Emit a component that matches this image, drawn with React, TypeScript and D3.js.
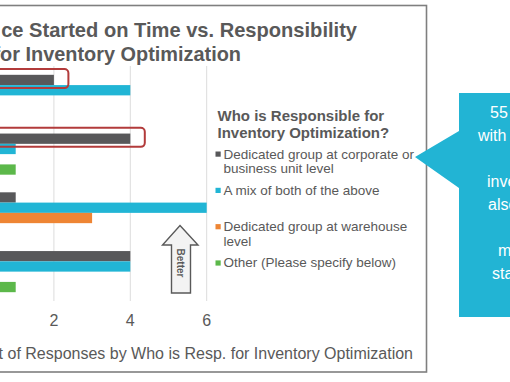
import React from "react";
import * as d3 from "d3";

// ---------- data ----------
const categories = ["Group 1", "Group 2", "Group 3", "Group 4"];
const seriesKeys = ["corporate", "mix", "warehouse", "other"];
const corporateValues = [2, 4, 1, 4];
const mixValues = [4, 1, 6, 4];
const warehouseValues = [0, 0, 3, 0];
const otherValues = [0, 1, 0, 1];
const gridTicks = [0, 2, 4, 6];
const tickLabels = [2, 4, 6];
const highlightedCategories = ["Group 1", "Group 2"];

const titleLines = ["ce Started on Time vs. Responsibility", "for Inventory Optimization"];
const axisTitle = "t of Responses by Who is Resp. for Inventory Optimization";
const legendTitle = ["Who is Responsible for", "Inventory Optimization?"];
const legendLabels = [
  ["Dedicated group at corporate or", "business unit level"],
  ["A mix of both of the above"],
  ["Dedicated group at warehouse", "level"],
  ["Other (Please specify below)"],
];
const calloutLines = ["55", "with", "", "inve", "also", "", "m", "sta"];
const arrowLabel = "Better";

// ---------- styles / layout ----------
const colors: Record<string, string> = {
  corporate: "#58585a",
  mix: "#21b5d5",
  warehouse: "#ee8534",
  other: "#5cb84a",
};
const textColor = "#595959";
const font = "'Liberation Sans', Arial, sans-serif";
const calloutLineX = [490, 478, 0, 487, 488, 0, 498, 492];

export default function App() {
  const W = 510;
  const H = 382;
  const values: Record<string, number[]> = {
    corporate: corporateValues,
    mix: mixValues,
    warehouse: warehouseValues,
    other: otherValues,
  };

  const x = d3.scaleLinear().domain([0, 6]).range([-22.5, 206.7]);
  const y = d3
    .scaleBand<string>()
    .domain(categories)
    .range([66, 301])
    .paddingInner(0.3)
    .paddingOuter(0.15);
  const ys = d3.scaleBand<string>().domain(seriesKeys).range([0, y.bandwidth()]);

  const legendX = 215.5;
  const legendY0 = 158.5;
  const legendStep = 36.3;

  return (
    <svg
      width={W}
      height={H}
      style={{ position: "absolute", left: 0, top: 0, background: "#fff" }}
      fontFamily={font}
    >
      <rect x={0} y={0} width={W} height={H} fill="#fff" />
      {/* frame */}
      <rect x={-10} y={5.5} width={436.5} height={366.5} fill="none" stroke="#7f7f7f" strokeWidth={1.6} />

      {/* title */}
      <text x={357} y={37} textAnchor="end" fontSize={20.1} fontWeight="bold" fill={textColor}>
        {titleLines[0]}
      </text>
      <text x={241} y={61} textAnchor="end" fontSize={19.9} fontWeight="bold" fill={textColor}>
        {titleLines[1]}
      </text>

      {/* gridlines */}
      {gridTicks.map((t) => (
        <line key={t} x1={x(t)} x2={x(t)} y1={66} y2={301} stroke="#dcdcdc" strokeWidth={1} />
      ))}

      {/* bars */}
      {categories.map((c, ci) =>
        seriesKeys.map((s) => {
          const v = values[s][ci];
          if (!v) return null;
          return (
            <rect
              key={c + s}
              x={x(0)}
              y={(y(c) as number) + (ys(s) as number)}
              width={x(v) - x(0)}
              height={ys.bandwidth()}
              fill={colors[s]}
            />
          );
        })
      )}

      {/* highlight boxes */}
      {highlightedCategories.map((c) => {
        const ci = categories.indexOf(c);
        const v = corporateValues[ci];
        const top = (y(c) as number) + (ys("corporate") as number) - 5.7;
        return (
          <rect
            key={"h" + c}
            x={-10}
            y={top}
            width={x(v) + 14.5 + 10}
            height={ys.bandwidth() + 8.7}
            rx={4}
            fill="none"
            stroke="#b23b3b"
            strokeWidth={2}
          />
        );
      })}

      {/* tick labels */}
      {tickLabels.map((t) => (
        <text key={"t" + t} x={x(t)} y={326} textAnchor="middle" fontSize={16} fill={textColor}>
          {t}
        </text>
      ))}

      {/* axis title */}
      <text x={413} y={358.8} textAnchor="end" fontSize={16} fill={textColor}>
        {axisTitle}
      </text>

      {/* better arrow */}
      <polygon
        points="180,225.5 198,245 190.5,245 190.5,293 171.5,293 171.5,245 162.5,245"
        fill="#f3f3f3"
        stroke={textColor}
        strokeWidth={1.4}
        strokeLinejoin="miter"
      />
      <text
        x={0}
        y={0}
        transform="translate(180,263) rotate(90)"
        textAnchor="middle"
        dominantBaseline="central"
        fontSize={10}
        fontWeight="bold"
        fill={textColor}
      >
        {arrowLabel}
      </text>

      {/* legend */}
      <text x={217.5} y={120.5} fontSize={15} fontWeight="bold" fill={textColor}>
        {legendTitle[0]}
      </text>
      <text x={217.5} y={137.5} fontSize={15} fontWeight="bold" fill={textColor}>
        {legendTitle[1]}
      </text>
      {seriesKeys.map((s, i) => {
        const by = legendY0 + i * legendStep;
        return (
          <g key={"l" + s}>
            <rect x={legendX} y={by - 7} width={5.2} height={5.2} fill={colors[s]} />
            {legendLabels[i].map((line, li) => (
              <text key={li} x={223.5} y={by + li * 14.5} fontSize={13.5} fill={textColor}>
                {line}
              </text>
            ))}
          </g>
        );
      })}

      {/* callout */}
      <polygon
        points="459,93 515,93 515,317 459,317 459,188 415,157 459,131"
        fill="#22b4d4"
      />
      {calloutLines.map((line, i) =>
        line ? (
          <text key={"c" + i} x={calloutLineX[i]} y={118 + i * 23} fontSize={16} fill="#ffffff">
            {line}
          </text>
        ) : null
      )}
    </svg>
  );
}
